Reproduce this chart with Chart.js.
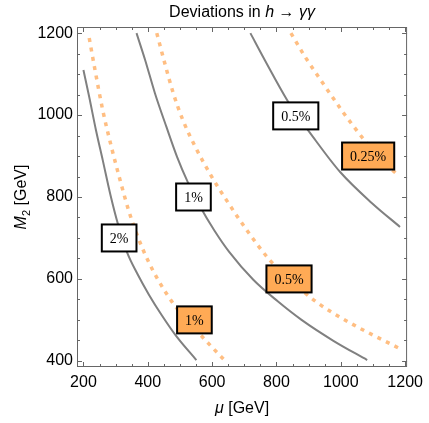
<!DOCTYPE html>
<html>
<head>
<meta charset="utf-8">
<style>
  html, body { margin: 0; padding: 0; background: #fff; }
  canvas { display: block; }
</style>
</head>
<body>
<canvas id="chart" width="429" height="423"></canvas>

<script src="https://cdn.jsdelivr.net/npm/chart.js"></script>

<script>
  // tick labels
  const muTicks = [200, 400, 600, 800, 1000, 1200];
  const m2Ticks = [400, 600, 800, 1000, 1200];

  // solid gray contours [mu, M2]
  const solid2 = [[200, 1110], [218, 1044], [239, 963], [260, 890], [284, 805], [308, 732],
    [335, 666], [368, 612], [404, 561], [443, 512], [488, 461], [551, 402]];
  const solid1 = [[365, 1200], [392, 1134], [422, 1054], [458, 971], [491, 898], [524, 837],
    [563, 776], [608, 717], [653, 666], [728, 598], [803, 546], [878, 500], [977, 449],
    [1082, 402]];
  const solid05 = [[719, 1200], [764, 1134], [833, 1037], [866, 998], [902, 959], [998, 861],
    [1097, 785], [1184, 727]];

  // dotted orange contours [mu, M2]
  const dotted1 = [[218, 1188], [236, 1110], [260, 1012], [287, 922], [314, 841], [341, 766],
    [368, 705], [398, 649], [434, 595], [482, 537], [533, 490], [581, 449], [638, 402]];
  const dotted05 = [[428, 1200], [452, 1129], [479, 1054], [509, 988], [548, 922], [599, 849],
    [644, 793], [707, 720], [779, 646], [839, 600], [929, 541], [1028, 493], [1178, 432]];
  const dotted025 = [[845, 1200], [890, 1141], [938, 1085], [1007, 1007], [1073, 939],
    [1127, 890], [1181, 851]];

  // contour labels
  const solidLabels = ['2%', '1%', '0.5%'];
  const solidLabelMu = [311, 542, 860];
  const solidLabelM2 = [700, 800, 998];
  const dottedLabels = ['1%', '0.5%', '0.25%'];
  const dottedLabelMu = [545, 839, 1085];
  const dottedLabelM2 = [500, 600, 900];

  const GRAY = '#808080';
  const LIGHT_ORANGE = '#FFBE82';
  const ORANGE = '#FFAA55';

  const toPts = (arr) => arr.map(([x, y]) => ({ x, y }));

  const solid = (arr) => ({
    data: toPts(arr), showLine: true, pointRadius: 0, borderColor: GRAY, borderWidth: 2,
    cubicInterpolationMode: 'monotone',
  });
  const dotted = (arr) => ({
    data: toPts(arr), showLine: true, pointRadius: 0, borderColor: LIGHT_ORANGE, borderWidth: 3.5,
    borderDash: [4, 5.5], borderCapStyle: 'butt', cubicInterpolationMode: 'monotone',
  });

  // text made of upright and italic pieces
  const drawRich = (ctx, parts, size, x, y, align) => {
    const fam = '"Liberation Sans", Arial, sans-serif';
    let total = 0;
    parts.forEach((p) => {
      ctx.font = (p[1] ? 'italic ' : '') + (p[2] || size) + 'px ' + fam;
      total += ctx.measureText(p[0]).width;
    });
    let cx = align === 'center' ? x - total / 2 : x;
    ctx.textAlign = 'left';
    ctx.textBaseline = 'alphabetic';
    parts.forEach((p) => {
      ctx.font = (p[1] ? 'italic ' : '') + (p[2] || size) + 'px ' + fam;
      ctx.fillText(p[0], cx, y + (p[3] || 0));
      cx += ctx.measureText(p[0]).width;
    });
  };

  const decor = {
    id: 'decor',
    beforeDatasetsDraw(chart) {
      const { ctx, chartArea: a, scales: { x, y } } = chart;
      ctx.save();
      ctx.strokeStyle = '#666';
      ctx.lineWidth = 1;
      ctx.strokeRect(a.left + 0.5, a.top + 0.5, a.right - a.left - 1, a.bottom - a.top - 1);
      ctx.beginPath();
      for (let v = 200; v <= 1200; v += 50) {
        const px = Math.round(x.getPixelForValue(v)) + 0.5;
        const len = v % 200 === 0 ? 5 : 3;
        ctx.moveTo(px, a.bottom); ctx.lineTo(px, a.bottom - len);
        ctx.moveTo(px, a.top); ctx.lineTo(px, a.top + len);
      }
      for (let v = 400; v <= 1200; v += 50) {
        const py = Math.round(y.getPixelForValue(v)) + 0.5;
        const len = v % 200 === 0 ? 5 : 3;
        ctx.moveTo(a.left, py); ctx.lineTo(a.left + len, py);
        ctx.moveTo(a.right, py); ctx.lineTo(a.right - len, py);
      }
      ctx.stroke();
      ctx.restore();
    },
    afterDatasetsDraw(chart) {
      const { ctx, scales: { x, y } } = chart;
      const box = (text, mu, m2, fill) => {
        const px = x.getPixelForValue(mu);
        const py = y.getPixelForValue(m2);
        ctx.font = '14px "Liberation Serif", "Times New Roman", serif';
        const w = ctx.measureText(text).width + 16;
        const h = 27;
        ctx.fillStyle = fill;
        ctx.fillRect(px - w / 2, py - h / 2, w, h);
        ctx.strokeStyle = '#000';
        ctx.lineWidth = 2;
        ctx.strokeRect(px - w / 2, py - h / 2, w, h);
        ctx.fillStyle = '#000';
        ctx.textAlign = 'center';
        ctx.textBaseline = 'middle';
        ctx.fillText(text, px, py + 1);
      };
      ctx.save();
      solidLabels.forEach((t, i) => box(t, solidLabelMu[i], solidLabelM2[i], '#fff'));
      dottedLabels.forEach((t, i) => box(t, dottedLabelMu[i], dottedLabelM2[i], ORANGE));
      ctx.restore();
    },
    afterDraw(chart) {
      const { ctx, chartArea: a } = chart;
      const cx = (a.left + a.right) / 2;
      const cy = (a.top + a.bottom) / 2;
      ctx.save();
      ctx.fillStyle = '#000';
      drawRich(ctx, [['Deviations in '], ['h', true], [' \u2192 '], ['\u03b3\u03b3', true]], 16, cx, 17, 'center');
      drawRich(ctx, [['\u03bc', true], [' [GeV]']], 16, cx, 413, 'center');
      ctx.translate(26, cy);
      ctx.rotate(-Math.PI / 2);
      drawRich(ctx, [['M', true], ['2', false, 11, 4], [' [GeV]']], 16, 0, 0, 'center');
      ctx.restore();
    },
  };

  const tickFont = { family: '"Liberation Sans", Arial, sans-serif', size: 16 };
  const plain = (v) => String(v);

  new Chart(document.getElementById('chart'), {
    type: 'scatter',
    data: {
      datasets: [
        solid(solid2), solid(solid1), solid(solid05),
        dotted(dotted1), dotted(dotted05), dotted(dotted025),
      ],
    },
    options: {
      responsive: false,
      animation: false,
      devicePixelRatio: 1,
      layout: { padding: { top: 27, right: 10, left: 0, bottom: 0 } },
      plugins: { legend: { display: false }, tooltip: { enabled: false } },
      scales: {
        x: {
          type: 'linear', min: 180, max: 1206,
          grid: { display: false, drawTicks: false },
          border: { display: false },
          ticks: { font: tickFont, color: '#000', padding: 6, maxRotation: 0, callback: plain },
          afterBuildTicks: (s) => { s.ticks = muTicks.map((v) => ({ value: v })); },
          afterFit: (s) => { s.height = 56; },
        },
        y: {
          type: 'linear', min: 385, max: 1215,
          grid: { display: false, drawTicks: false },
          border: { display: false },
          ticks: { font: tickFont, color: '#000', padding: 4, callback: plain },
          afterBuildTicks: (s) => { s.ticks = m2Ticks.map((v) => ({ value: v })); },
          afterFit: (s) => { s.width = 77; },
        },
      },
    },
    plugins: [decor],
  });
</script>
</body>
</html>
